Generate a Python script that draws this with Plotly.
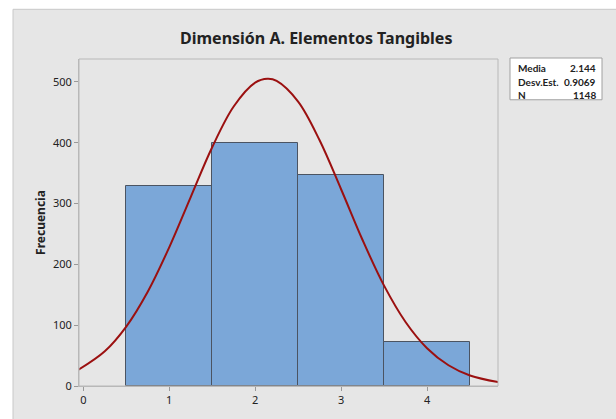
import plotly.graph_objects as go

# Data
bin_centers = [1, 2, 3, 4]
frequencies = [329, 400, 347, 72]

curve_x = [-0.06, 0.25, 0.5, 0.75, 1.0, 1.25, 1.5, 1.75, 2.0, 2.144, 2.25, 2.5, 2.75,
           3.0, 3.25, 3.5, 3.75, 4.0, 4.25, 4.5, 4.83]
curve_y = [26.4, 57.1, 97.7, 155, 228, 310.6, 392.5, 459.5, 498.7, 505, 501.6, 467.6, 404,
           323.5, 240, 165, 105.3, 62.2, 34.1, 17.3, 6.3]

x_ticks = [0, 1, 2, 3, 4]
y_ticks = [0, 100, 200, 300, 400, 500]

stats_labels = ["Media", "Desv.Est.", "N"]
stats_values = ["2.144", "0.9069", "1148"]

title_text = "Dimensión A. Elementos Tangibles"
y_title = "Frecuencia"

W, H = 616, 419
L, R, T, B = 79, 498, 59, 388

def px(xp):
    return (xp - L) / (R - L)

def py(yp):
    return (B - yp) / (B - T)

fig = go.Figure()
fig.add_trace(go.Bar(
    x=bin_centers, y=frequencies, width=1,
    marker=dict(color="#7BA7D8", line=dict(color="#4B5462", width=1)),
    hoverinfo="x+y", showlegend=False,
))
fig.add_trace(go.Scatter(
    x=curve_x, y=curve_y, mode="lines",
    line=dict(color="#9B1010", width=2, shape="spline", smoothing=1.0),
    showlegend=False,
))

font_family = "Noto Sans, Open Sans, sans-serif"
legend_font = "Lato, Noto Sans, sans-serif"

shapes = [
    dict(type="rect", xref="paper", yref="paper", layer="below",
         x0=px(13), x1=px(W + 5), y0=py(H + 5), y1=py(9),
         fillcolor="#E6E6E6", line=dict(color="#C8C8C8", width=1)),
    dict(type="rect", xref="paper", yref="paper",
         x0=px(510), x1=px(602), y0=py(100), y1=py(58),
         fillcolor="white", line=dict(color="#A0A0A0", width=1)),
    dict(type="rect", xref="paper", yref="paper",
         x0=0, x1=1, y0=0, y1=1,
         fillcolor="rgba(0,0,0,0)", line=dict(color="#B8B8B8", width=1)),
]

annotations = [
    dict(text=f"<b>{title_text}</b>", xref="paper", yref="paper",
         x=px(316), y=py(38), showarrow=False, xanchor="center", yanchor="middle",
         font=dict(size=16, color="#222222", family=font_family)),
]
row_y = [68, 82, 95]
for lab, val, yy in zip(stats_labels, stats_values, row_y):
    annotations.append(dict(text=f"<b>{lab}</b>", xref="paper", yref="paper",
                            x=px(516), y=py(yy), showarrow=False, xanchor="left", yanchor="middle",
                            font=dict(size=10, color="#222222", family=legend_font)))
    annotations.append(dict(text=f"<b>{val}</b>", xref="paper", yref="paper",
                            x=px(598), y=py(yy), showarrow=False, xanchor="right", yanchor="middle",
                            font=dict(size=10, color="#222222", family=legend_font)))

fig.update_layout(
    width=W, height=H,
    margin=dict(l=L, r=W - R, t=T, b=H - B, pad=0),
    paper_bgcolor="white", plot_bgcolor="white",
    bargap=0,
    shapes=shapes, annotations=annotations,
    font=dict(family=font_family, size=11, color="#222222"),
    xaxis=dict(range=[-0.05, 4.826], tickvals=x_ticks, ticks="outside", ticklen=4,
               tickcolor="#999999", showgrid=False, zeroline=False, showline=True,
               linecolor="#B8B8B8", tickfont=dict(size=11, color="#222222")),
    yaxis=dict(range=[0, 537.6], tickvals=y_ticks, ticks="outside", ticklen=4,
               tickcolor="#999999", showgrid=False, zeroline=False, showline=True,
               linecolor="#B8B8B8", tickfont=dict(size=11, color="#222222"),
               title=dict(text=f"<b>{y_title}</b>", standoff=4,
                          font=dict(size=12, color="#222222"))),
)

fig.write_html("out.html", config={"displayModeBar": False},
               post_script="document.body.style.margin='0';document.body.style.overflow='hidden';")
